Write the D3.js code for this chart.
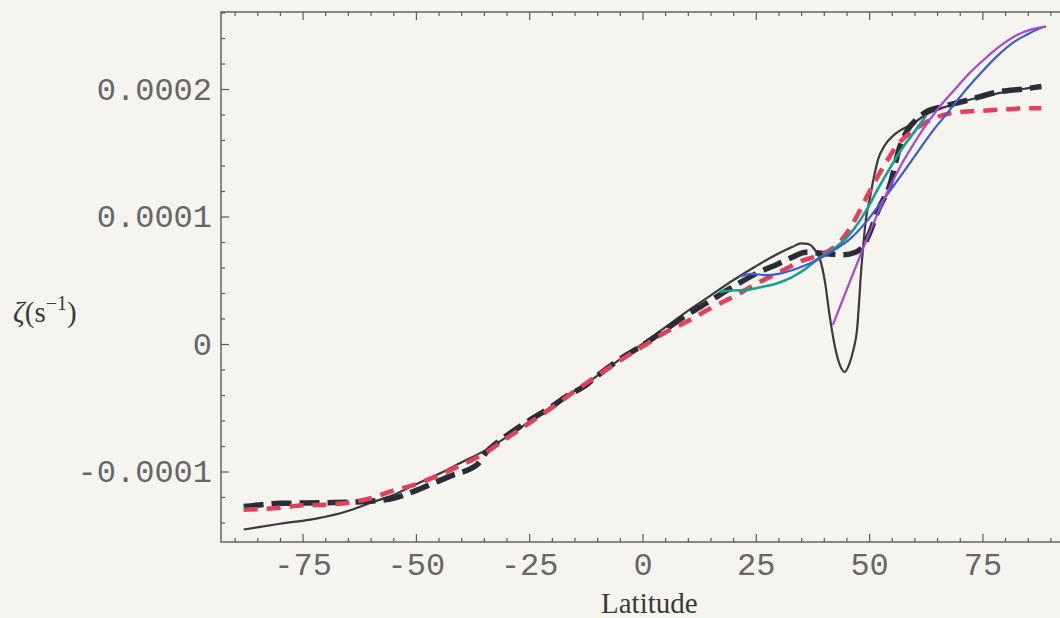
<!DOCTYPE html>
<html>
<head>
<meta charset="utf-8">
<script src="https://cdn.jsdelivr.net/npm/d3@7"></script>
<style>
  html, body { margin: 0; padding: 0; background: #f6f4ef; }
  svg { display: block; }
</style>
</head>
<body>
<svg id="chart" width="1060" height="618"></svg>
<script>
// Absolute vorticity profiles ζ (in units of 1e-4 s^-1) against latitude.
const UNIT = 1e-4;

// thin solid dark curve
const latSolid = [-88, -80, -72, -65, -60, -55, -50, -45, -40, -35, -30, -25, -20, -15, -10, -5, 0, 5, 10, 15, 20, 25, 30, 33, 35, 36.5, 38, 39.2, 40.2, 41.3, 42.5, 43.6, 44.6, 45.6, 46.5, 47.3, 48.3, 49.3, 50.2, 51, 52, 53.5, 55.5, 59.7, 62.6, 66, 71.5, 78.9, 84, 88];
const zetaSolid = [-1.455, -1.41, -1.37, -1.31, -1.245, -1.185, -1.10, -1.02, -0.93, -0.84, -0.73, -0.61, -0.49, -0.37, -0.25, -0.12, 0.0, 0.13, 0.26, 0.38, 0.50, 0.61, 0.71, 0.76, 0.79, 0.785, 0.74, 0.66, 0.50, 0.22, -0.03, -0.17, -0.22, -0.16, -0.05, 0.10, 0.60, 0.98, 1.15, 1.30, 1.45, 1.56, 1.64, 1.73, 1.80, 1.85, 1.91, 1.97, 2.00, 2.02];

// thick dashed dark curve
const latDashDark = [-88, -80, -70, -62, -55, -50, -46, -42, -38, -36.3, -34.5, -33, -30, -25, -20, -16.8, -13, -10, -5, 0, 5, 9, 15, 20, 25, 30, 33, 36, 40, 44, 47, 48.5, 50, 52, 54.6, 56.8, 58.5, 60.4, 62.6, 66, 71.5, 78.9, 84, 88];
const zetaDashDark = [-1.275, -1.25, -1.245, -1.237, -1.21, -1.15, -1.09, -1.03, -0.98, -0.94, -0.85, -0.80, -0.72, -0.60, -0.49, -0.41, -0.335, -0.25, -0.12, -0.01, 0.11, 0.21, 0.34, 0.45, 0.55, 0.63, 0.68, 0.72, 0.71, 0.70, 0.72, 0.76, 0.86, 1.05, 1.25, 1.55, 1.68, 1.76, 1.82, 1.86, 1.91, 1.98, 2.00, 2.02];

// dashed red curve
const latDashRed = [-88, -80, -75, -70, -65, -60, -55, -50, -45, -40, -35, -30, -25, -20, -15, -10, -5, 0, 5, 10, 15, 20, 25, 30, 35, 40, 43, 46, 48, 50, 52, 54, 56, 60, 65, 70, 75, 80, 85, 88];
const zetaDashRed = [-1.30, -1.285, -1.265, -1.26, -1.245, -1.21, -1.15, -1.10, -1.03, -0.95, -0.86, -0.74, -0.62, -0.50, -0.37, -0.25, -0.13, -0.02, 0.09, 0.18, 0.28, 0.37, 0.47, 0.56, 0.65, 0.71, 0.78, 0.92, 1.05, 1.19, 1.32, 1.44, 1.55, 1.68, 1.78, 1.82, 1.83, 1.84, 1.85, 1.85];

// teal curve
const latTeal = [17, 20, 23, 26, 29.6, 33, 36, 38.4, 42, 45.7, 49.4, 52, 54.6, 57, 59.7, 62.6];
const zetaTeal = [0.41, 0.42, 0.425, 0.445, 0.475, 0.525, 0.59, 0.66, 0.74, 0.86, 1.05, 1.22, 1.38, 1.52, 1.65, 1.79];

// blue curve
const latBlue = [21.5, 24, 27.4, 30, 34.7, 38, 42, 46, 49.4, 52, 55, 58, 61, 64, 67, 71.5, 75, 78.9, 82, 85, 88, 89];
const zetaBlue = [0.53, 0.55, 0.54, 0.55, 0.60, 0.65, 0.73, 0.83, 0.96, 1.08, 1.22, 1.37, 1.52, 1.67, 1.80, 2.00, 2.14, 2.28, 2.37, 2.43, 2.48, 2.49];

// purple curve
const latPurple = [42, 45, 48, 51, 54, 57, 60, 63, 66, 69, 72, 75, 79, 83, 86, 89];
const zetaPurple = [0.15, 0.42, 0.69, 0.95, 1.19, 1.40, 1.58, 1.74, 1.88, 2.00, 2.12, 2.22, 2.34, 2.43, 2.47, 2.49];

// axis ticks
const xMajor = [-75, -50, -25, 0, 25, 50, 75];
const xMajorLabels = ["-75", "-50", "-25", "0", "25", "50", "75"];
const yMajor = [-0.0001, 0, 0.0001, 0.0002];
const yMajorLabels = ["-0.0001", "0", "0.0001", "0.0002"];

const svg = d3.select("#chart");
const W = 1060, H = 618;
const frameL = 221, frameR = 1064, frameT = 12, frameB = 542;

svg.append("rect").attr("width", W).attr("height", H).attr("fill", "#f6f4ef");

const x = d3.scaleLinear().domain([-93, 93]).range([frameL, frameR]);
const y = d3.scaleLinear().domain([-0.0001553, 0.0002604]).range([frameB, frameT]);

const xMinor = d3.range(-90, 91, 5).filter(v => !xMajor.includes(v));
const yMinor = d3.range(-14, 27, 2).map(v => v * 0.00001).filter(v => !yMajor.some(m => Math.abs(m - v) < 1e-9));

const axisColor = "#5a5a5a";
const labelFont = "'Liberation Mono', 'Courier New', monospace";

function styleAxis(g) {
  g.select(".domain").remove();
  g.selectAll("line").attr("stroke", axisColor).attr("stroke-width", 1.2);
  g.selectAll("text").attr("fill", "#666666").style("font-family", labelFont).style("font-size", "32px");
}

// bottom axis
svg.append("g").attr("transform", `translate(0,${frameB})`)
  .call(d3.axisBottom(x).tickValues(xMajor).tickSize(-8).tickPadding(10)
    .tickFormat((d, i) => xMajorLabels[i]))
  .call(styleAxis);
svg.append("g").attr("transform", `translate(0,${frameB})`)
  .call(d3.axisBottom(x).tickValues(xMinor).tickSize(-4).tickFormat(""))
  .call(styleAxis);
// top axis (ticks only)
svg.append("g").attr("transform", `translate(0,${frameT})`)
  .call(d3.axisTop(x).tickValues(xMajor).tickSize(-8).tickFormat(""))
  .call(styleAxis);
svg.append("g").attr("transform", `translate(0,${frameT})`)
  .call(d3.axisTop(x).tickValues(xMinor).tickSize(-4).tickFormat(""))
  .call(styleAxis);
// left axis
svg.append("g").attr("transform", `translate(${frameL},0)`)
  .call(d3.axisLeft(y).tickValues(yMajor).tickSize(-8).tickPadding(9)
    .tickFormat((d, i) => yMajorLabels[i]))
  .call(styleAxis);
svg.append("g").attr("transform", `translate(${frameL},0)`)
  .call(d3.axisLeft(y).tickValues(yMinor).tickSize(-4).tickFormat(""))
  .call(styleAxis);

// frame
svg.append("rect")
  .attr("x", frameL).attr("y", frameT)
  .attr("width", frameR - frameL).attr("height", frameB - frameT)
  .attr("fill", "none").attr("stroke", axisColor).attr("stroke-width", 1.4);

// curves
const plot = svg.append("g");
const line = d3.line()
  .x(d => x(d[0]))
  .y(d => y(d[1] * UNIT))
  .curve(d3.curveMonotoneX);

const series = [
  { lat: latSolid, zeta: zetaSolid, color: "#3a3a3c", width: 2.2, dash: null },
  { lat: latDashDark, zeta: zetaDashDark, color: "#2a2d35", width: 5.5, dash: "20,8" },
  { lat: latDashRed, zeta: zetaDashRed, color: "#e2405b", width: 4.5, dash: "14,9" },
  { lat: latTeal, zeta: zetaTeal, color: "#17a08c", width: 2.6, dash: null },
  { lat: latBlue, zeta: zetaBlue, color: "#3b5ad6", width: 2.2, dash: null },
  { lat: latPurple, zeta: zetaPurple, color: "#a645d6", width: 2.2, dash: null }
];

series.forEach(s => {
  plot.append("path")
    .datum(s.lat.map((v, i) => [v, s.zeta[i]]))
    .attr("d", line)
    .attr("fill", "none")
    .attr("stroke", s.color)
    .attr("stroke-width", s.width)
    .attr("stroke-linecap", "butt")
    .attr("stroke-linejoin", "round")
    .attr("stroke-dasharray", s.dash);
});

// axis titles
const title = svg.append("text")
  .attr("x", 13).attr("y", 322)
  .attr("fill", "#3a3a3a")
  .style("font-family", "'Liberation Serif', 'DejaVu Serif', serif")
  .style("font-size", "29px");
title.append("tspan").style("font-style", "italic").text("ζ");
title.append("tspan").text("(s");
title.append("tspan").attr("dy", -12).style("font-size", "20px").text("−1");
title.append("tspan").attr("dy", 12).text(")");

svg.append("text")
  .attr("x", 601).attr("y", 613)
  .attr("fill", "#3a3a3a")
  .style("font-family", "'Liberation Serif', 'DejaVu Serif', serif")
  .style("font-size", "29px")
  .text("Latitude");
</script>
</body>
</html>
